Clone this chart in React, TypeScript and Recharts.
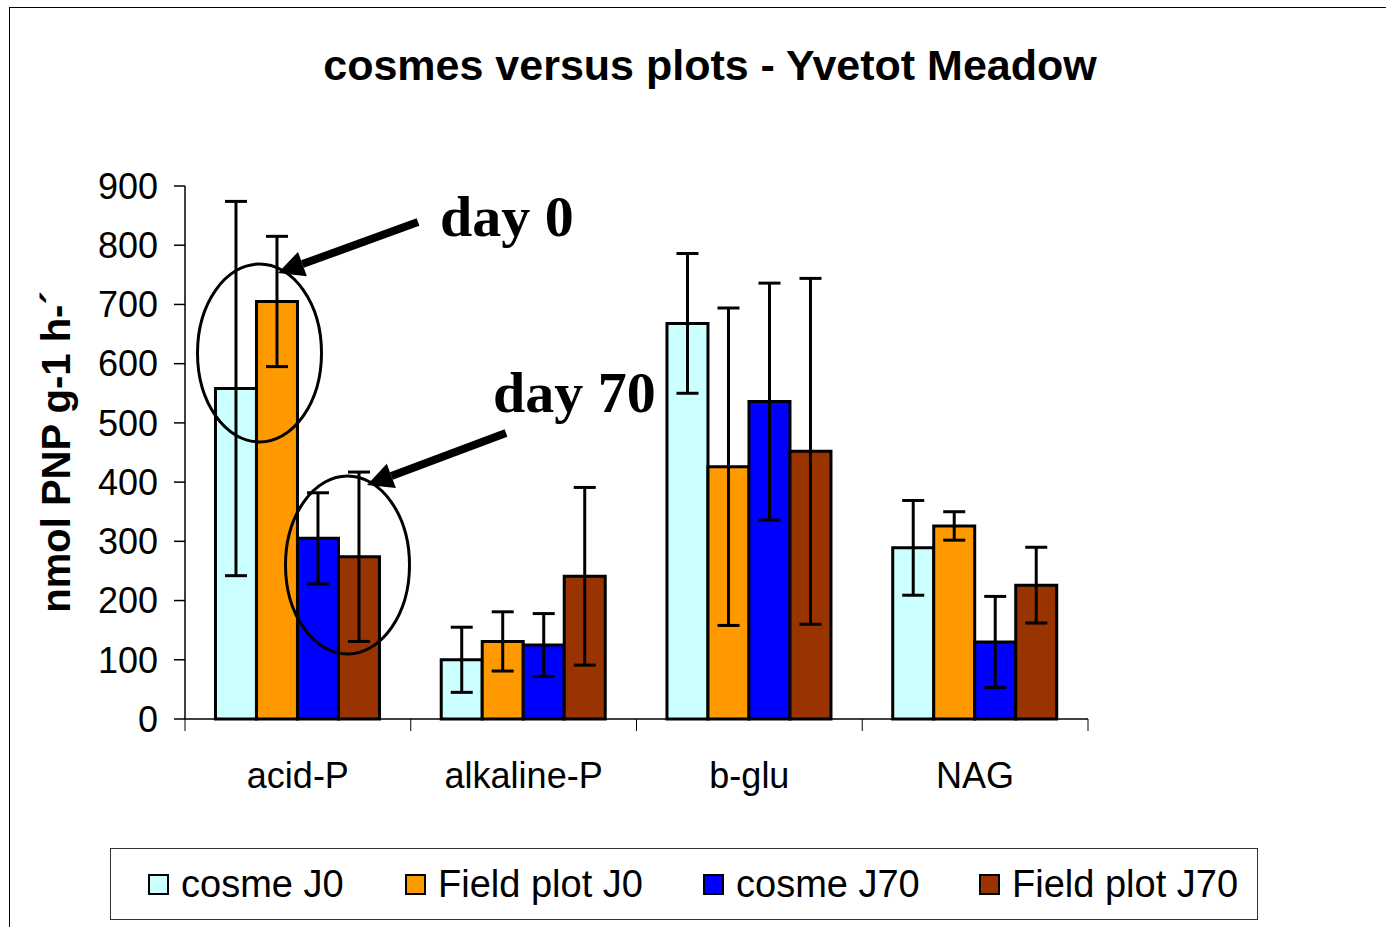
import React from 'react';
import { BarChart, Bar, XAxis, YAxis, ErrorBar, Legend } from 'recharts';

const categories = ['acid-P', 'alkaline-P', 'b-glu', 'NAG'];
const cosmeJ0 = [558, 100, 668, 289];
const cosmeJ0Err = [316, 55, 118, 80];
const fieldJ0 = [705, 131, 426, 326];
const fieldJ0Err = [110, 50, 268, 24];
const cosmeJ70 = [305, 125, 536, 130];
const cosmeJ70Err = [77, 53, 200, 77];
const fieldJ70 = [274, 241, 452, 226];
const fieldJ70Err = [143, 150, 292, 64];
const yTicks = [0, 100, 200, 300, 400, 500, 600, 700, 800, 900];

const seriesNames = ['cosme J0', 'Field plot J0', 'cosme J70', 'Field plot J70'];
const seriesColors = ['#CCFFFF', '#FF9900', '#0000FF', '#993300'];

const data = categories.map((c, i) => ({
  name: c,
  cJ0: cosmeJ0[i],
  cJ0e: cosmeJ0Err[i],
  fJ0: fieldJ0[i],
  fJ0e: fieldJ0Err[i],
  cJ70: cosmeJ70[i],
  cJ70e: cosmeJ70Err[i],
  fJ70: fieldJ70[i],
  fJ70e: fieldJ70Err[i],
}));

const seriesKeys = [
  ['cJ0', 'cJ0e'],
  ['fJ0', 'fJ0e'],
  ['cJ70', 'cJ70e'],
  ['fJ70', 'fJ70e'],
];

const W = 1386;
const H = 927;
const PLOT_LEFT = 185;
const PLOT_RIGHT = 1088;
const PLOT_W = PLOT_RIGHT - PLOT_LEFT;
const SANS = '"Liberation Sans", Arial, sans-serif';
const SERIF = '"Liberation Serif", "Times New Roman", serif';

const legendOffsets = [37, 294, 592, 868];

const XTick = (props: any) => {
  const { x, y, payload, index } = props;
  const band = PLOT_W / categories.length;
  return (
    <g>
      <line x1={x - band / 2} y1={y} x2={x - band / 2} y2={y + 12} stroke="#000" strokeWidth={1} />
      {index === categories.length - 1 && (
        <line x1={x + band / 2} y1={y} x2={x + band / 2} y2={y + 12} stroke="#000" strokeWidth={1} />
      )}
      <text x={x} y={y + 69} textAnchor="middle" fontFamily={SANS} fontSize={36} fill="#000">
        {payload.value}
      </text>
    </g>
  );
};

const renderLegend = (props: any) => {
  const payload = [...(props.payload || [])].sort(
    (a: any, b: any) => seriesNames.indexOf(a.value) - seriesNames.indexOf(b.value)
  );
  return (
    <div
      style={{
        position: 'relative',
        boxSizing: 'border-box',
        width: 1148,
        height: 72,
        border: '1px solid #333',
        background: '#fff',
        fontFamily: SANS,
      }}
    >
      {payload.map((p: any, i: number) => (
        <div
          key={p.value}
          style={{
            position: 'absolute',
            left: legendOffsets[i],
            top: 0,
            height: 70,
            display: 'flex',
            alignItems: 'center',
          }}
        >
          <span
            style={{
              display: 'inline-block',
              boxSizing: 'border-box',
              width: 21,
              height: 21,
              border: '2px solid #000',
              background: p.color,
              marginRight: 12,
            }}
          />
          <span style={{ fontSize: 38, color: '#000', lineHeight: 1 }}>{p.value}</span>
        </div>
      ))}
    </div>
  );
};

function arrow(sx: number, sy: number, tx: number, ty: number) {
  const dx = tx - sx;
  const dy = ty - sy;
  const len = Math.sqrt(dx * dx + dy * dy);
  const ux = dx / len;
  const uy = dy / len;
  const hl = 26;
  const hw = 13;
  const bx = tx - ux * hl;
  const by = ty - uy * hl;
  const px = -uy * hw;
  const py = ux * hw;
  return (
    <g>
      <line x1={sx} y1={sy} x2={bx} y2={by} stroke="#000" strokeWidth={8} />
      <polygon points={`${tx},${ty} ${bx + px},${by + py} ${bx - px},${by - py}`} fill="#000" />
    </g>
  );
}

export default function App() {
  return (
    <div style={{ position: 'absolute', left: 0, top: 0, width: W, height: H, overflow: 'hidden', background: '#fff' }}>
      <div
        style={{
          position: 'absolute',
          left: 9,
          top: 7,
          width: 1400,
          height: 960,
          border: '1.5px solid #000',
          boxSizing: 'border-box',
        }}
      />
      <div style={{ position: 'absolute', left: 0, top: 0 }}>
        <BarChart
          width={W}
          height={H}
          data={data}
          margin={{ top: 186, right: W - PLOT_RIGHT, bottom: 86, left: 0 }}
          barCategoryGap="13.5%"
          barGap={0}
        >
          <XAxis
            dataKey="name"
            height={50}
            tickLine={false}
            tickSize={0}
            tickMargin={0}
            axisLine={{ stroke: '#000', strokeWidth: 1.5 }}
            tick={<XTick />}
            interval={0}
          />
          <XAxis
            xAxisId="top"
            dataKey="name"
            orientation="top"
            height={0}
            tick={false}
            tickLine={false}
            axisLine={{ stroke: '#000', strokeWidth: 1.5 }}
          />
          <YAxis
            width={PLOT_LEFT}
            domain={[0, 900]}
            ticks={yTicks}
            interval={0}
            tickSize={11}
            tickMargin={16}
            tickLine={{ stroke: '#000', strokeWidth: 1.5 }}
            axisLine={{ stroke: '#000', strokeWidth: 1.5 }}
            tick={{ fontFamily: SANS, fontSize: 36, fill: '#000' }}
          />
          <YAxis
            yAxisId="right"
            orientation="right"
            width={0}
            domain={[0, 900]}
            tick={false}
            tickLine={false}
            axisLine={{ stroke: '#777', strokeWidth: 1.5 }}
          />
          {seriesKeys.map(([k, e], i) => (
            <Bar
              key={k}
              dataKey={k}
              name={seriesNames[i]}
              fill={seriesColors[i]}
              stroke="#000"
              strokeWidth={3}
              isAnimationActive={false}
            >
              <ErrorBar dataKey={e} width={11} stroke="#000" strokeWidth={3} />
            </Bar>
          ))}
          <Legend
            content={renderLegend}
            width={1148}
            height={72}
            wrapperStyle={{ left: 110, top: 848, bottom: 'auto', width: 1148, height: 72 }}
          />
        </BarChart>
      </div>
      <svg
        width={W}
        height={H}
        style={{ position: 'absolute', left: 0, top: 0, pointerEvents: 'none' }}
      >
        <text x={710} y={80} textAnchor="middle" fontFamily={SANS} fontWeight="bold" fontSize={43} fill="#000">
          cosmes versus plots - Yvetot Meadow
        </text>
        <text
          x={70}
          y={452}
          textAnchor="middle"
          transform="rotate(-90 70 452)"
          fontFamily={SANS}
          fontWeight="bold"
          fontSize={40}
          fill="#000"
        >
          nmol PNP g-1 h-´
        </text>
        <ellipse cx={259.5} cy={353} rx={62} ry={89} fill="none" stroke="#000" strokeWidth={3} />
        <ellipse cx={347.5} cy={565} rx={62} ry={89} fill="none" stroke="#000" strokeWidth={3} />
        {arrow(418, 222, 278, 273)}
        {arrow(506, 433, 367, 485)}
        <text x={440} y={236} fontFamily={SERIF} fontWeight="bold" fontSize={58} fill="#000">
          day 0
        </text>
        <text x={493} y={412} fontFamily={SERIF} fontWeight="bold" fontSize={58} fill="#000">
          day 70
        </text>
      </svg>
    </div>
  );
}
